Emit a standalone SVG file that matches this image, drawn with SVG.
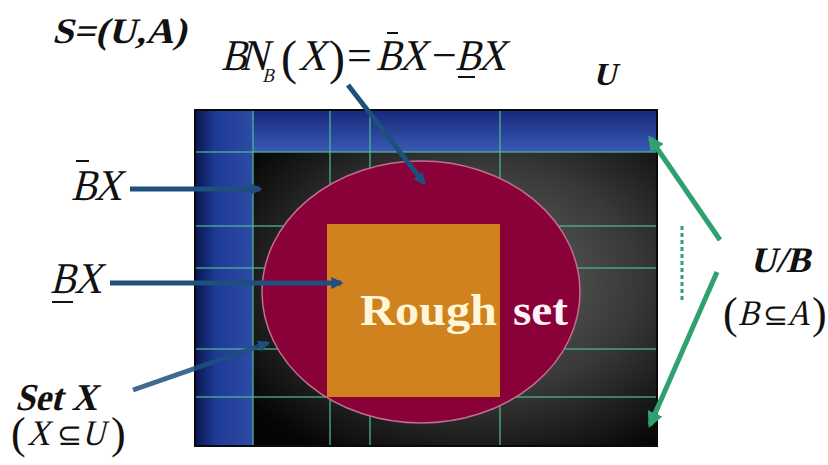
<svg xmlns="http://www.w3.org/2000/svg" width="828" height="465" viewBox="0 0 828 465">
<style>
text{font-family:'Liberation Serif','Times New Roman',serif;fill:#111}
.b{font-weight:bold}
.grid line{stroke:#4fb592;stroke-width:1.5;stroke-opacity:0.85}
.blue{stroke:#1f4f7e;stroke-width:5;fill:none}
.green{stroke:#2fa070;stroke-width:5;fill:none}
.bar{stroke:#111;stroke-width:2}
</style>
<defs>
<radialGradient id="dark" cx="0.62" cy="0.5" r="0.62">
<stop offset="0" stop-color="#666"/>
<stop offset="0.55" stop-color="#383838"/>
<stop offset="1" stop-color="#050505"/>
</radialGradient>
<linearGradient id="top" x1="0" y1="0" x2="0" y2="1">
<stop offset="0" stop-color="#16287a"/>
<stop offset="1" stop-color="#3a5ab4"/>
</linearGradient>
<linearGradient id="left" x1="0" y1="0" x2="1" y2="0">
<stop offset="0" stop-color="#0a1550"/>
<stop offset="0.35" stop-color="#1e3a94"/>
<stop offset="1" stop-color="#2c4ca6"/>
</linearGradient>
<marker id="ab" viewBox="0 0 10 10" refX="8" refY="5" markerWidth="12" markerHeight="12" markerUnits="userSpaceOnUse" orient="auto">
<path d="M0,0 L10,5 L0,10 z" fill="#1f4f7e"/>
</marker>
<marker id="ag" viewBox="0 0 10 10" refX="8" refY="5" markerWidth="16" markerHeight="16" markerUnits="userSpaceOnUse" orient="auto">
<path d="M0,0 L10,5 L0,10 z" fill="#2fa070"/>
</marker>
</defs>
<rect width="828" height="465" fill="#fff"/>
<g id="universe">
<rect x="195" y="110" width="462" height="336" fill="url(#dark)"/>
<rect x="195" y="110" width="462" height="42" fill="url(#top)"/>
<rect x="195" y="110" width="58" height="336" fill="url(#left)"/>
<g class="grid">
<line x1="195" y1="152" x2="657" y2="152"/>
<line x1="195" y1="226" x2="657" y2="226"/>
<line x1="195" y1="268" x2="657" y2="268"/>
<line x1="195" y1="349" x2="657" y2="349"/>
<line x1="195" y1="397" x2="657" y2="397"/>
<line x1="253" y1="110" x2="253" y2="446"/>
<line x1="330" y1="110" x2="330" y2="446"/>
<line x1="370" y1="110" x2="370" y2="446"/>
<line x1="500" y1="110" x2="500" y2="446"/>
</g>
<rect x="195" y="110" width="462" height="336" fill="none" stroke="#0a0a0a" stroke-width="2"/>
<line x1="682" y1="226" x2="682" y2="302" stroke="#2fa070" stroke-width="3" stroke-dasharray="4 3"/>
</g>
<g id="boundary">
<ellipse cx="421" cy="292" rx="159" ry="131" fill="#8a0038" stroke="#c0708e" stroke-width="1.5"/>
</g>
<g id="lower">
<rect x="327" y="224" width="173" height="173" fill="#d0821e"/>
<text x="360" y="325" class="b" font-size="44" fill="#fff6d8" style="fill:#fff6d8" textLength="137" lengthAdjust="spacingAndGlyphs">Rough</text>
<text x="513" y="325" class="b" font-size="44" style="fill:#fff2f6" textLength="55" lengthAdjust="spacingAndGlyphs">set</text>
</g>
<g id="connectors">
<line class="blue" x1="348" y1="85" x2="424" y2="183" marker-end="url(#ab)"/>
<line class="blue" x1="130" y1="189" x2="260" y2="189" marker-end="url(#ab)"/>
<line class="blue" x1="110" y1="283" x2="341" y2="283" marker-end="url(#ab)"/>
<line class="blue" x1="133" y1="390" x2="268" y2="343" marker-end="url(#ab)" stroke-opacity="0.85"/>
<line class="green" x1="720" y1="240" x2="650" y2="138" marker-end="url(#ag)"/>
<line class="green" x1="717" y1="272" x2="650" y2="425" marker-end="url(#ag)"/>
</g>
<g id="labels">
<text class="b" transform="translate(52,43) skewX(-14)" x="0" y="0" font-size="36" textLength="134" lengthAdjust="spacingAndGlyphs">S=(U,A)</text>
<text font-size="44" transform="translate(0,70) skewX(-14) scale(0.87,1)"><tspan x="254" y="0">B</tspan><tspan x="276">N</tspan><tspan x="305" y="12" font-size="20">B</tspan><tspan x="342.5" y="0">X</tspan><tspan x="432">B</tspan><tspan x="458.6">X</tspan><tspan x="523">B</tspan><tspan x="549.4">X</tspan></text>
<text font-size="44"><tspan x="281" y="74" font-size="48">(</tspan><tspan x="329" y="74" font-size="48">)</tspan><tspan x="347" y="70">=</tspan><tspan x="432" y="70">−</tspan></text>
<line class="bar" x1="387" y1="33" x2="398" y2="33"/>
<line class="bar" x1="458" y1="77" x2="475" y2="77"/>
<text class="b" transform="translate(593,85) skewX(-14)" font-size="32">U</text>
<text font-size="44" transform="translate(0,200) skewX(-14) scale(0.87,1)"><tspan x="81.6" y="0">B</tspan><tspan x="108">X</tspan></text>
<line class="bar" x1="76" y1="161" x2="89" y2="161"/>
<text font-size="44" transform="translate(0,293) skewX(-14) scale(0.87,1)"><tspan x="57.5" y="0">B</tspan><tspan x="85">X</tspan></text>
<line class="bar" x1="52" y1="302" x2="73" y2="302"/>
<text class="b" transform="translate(15,410) skewX(-14)" font-size="38" textLength="82" lengthAdjust="spacingAndGlyphs">Set X</text>
<text font-size="44"><tspan x="11" y="448">(</tspan><tspan x="57" y="445" font-size="30">⊆</tspan><tspan x="111" y="448">)</tspan></text>
<text font-size="36" transform="translate(0,445) skewX(-14) scale(0.87,1)"><tspan x="31" y="0">X</tspan><tspan x="94.3">U</tspan></text>
<text class="b" transform="translate(750,272) skewX(-14)" font-size="36">U/B</text>
<text font-size="44"><tspan x="723" y="328">(</tspan><tspan x="763" y="325" font-size="30">⊆</tspan><tspan x="812" y="328">)</tspan></text>
<text font-size="36" transform="translate(0,325) skewX(-14) scale(0.87,1)"><tspan x="848.3" y="0">B</tspan><tspan x="904.6">A</tspan></text>
</g>
</svg>
